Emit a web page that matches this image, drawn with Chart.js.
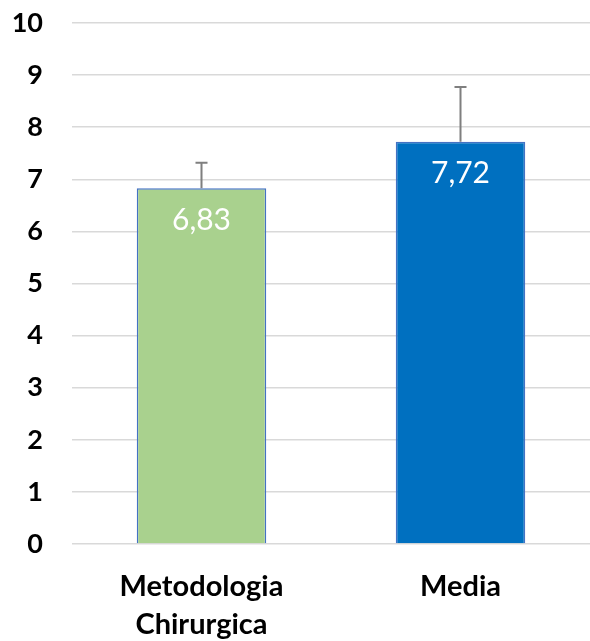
<!DOCTYPE html>
<html>
<head>
<meta charset="utf-8">
<script src="https://cdn.jsdelivr.net/npm/chart.js@4"></script>
<style>
  html, body { margin: 0; padding: 0; background: #fff; }
  #wrap { width: 590px; height: 641px; }
</style>
</head>
<body>
<div id="wrap"><canvas id="chart" width="590" height="641"></canvas></div>
<script>
var categories = [['Metodologia', 'Chirurgica'], 'Media'];
var values = [6.83, 7.72];
var errorsPlus = [0.49, 1.05];
var valueLabels = ['6,83', '7,72'];
var barColors = ['#A9D18E', '#0070C0'];
var borderColors = ['#4472C4', '#4472C4'];

var errorBars = {
    id: 'errorBars',
    afterDatasetsDraw: function (chart) {
        var ctx = chart.ctx;
        var meta = chart.getDatasetMeta(0);
        var y = chart.scales.y;
        ctx.save();
        ctx.strokeStyle = '#7f7f7f';
        ctx.lineWidth = 2;
        meta.data.forEach(function (bar, i) {
            var top = y.getPixelForValue(values[i] + errorsPlus[i]);
            ctx.beginPath();
            ctx.moveTo(bar.x, bar.y);
            ctx.lineTo(bar.x, top);
            ctx.moveTo(bar.x - 6, top);
            ctx.lineTo(bar.x + 6, top);
            ctx.stroke();
        });
        // value labels inside bars
        ctx.fillStyle = '#ffffff';
        ctx.font = '30px Lato, "Open Sans", sans-serif';
        ctx.textAlign = 'center';
        ctx.textBaseline = 'middle';
        meta.data.forEach(function (bar, i) {
            ctx.fillText(valueLabels[i], bar.x, bar.y + 32);
        });
        ctx.restore();
    }
};

new Chart(document.getElementById('chart').getContext('2d'), {
    type: 'bar',
    data: {
        labels: categories,
        datasets: [{
            data: values,
            backgroundColor: barColors,
            borderColor: borderColors,
            borderWidth: 1.5,
            categoryPercentage: 1,
            barPercentage: 0.5
        }]
    },
    options: {
        responsive: false,
        animation: false,
        layout: { padding: { top: 23, right: 0, left: 0, bottom: 0 } },
        plugins: {
            legend: { display: false },
            tooltip: { enabled: false }
        },
        scales: {
            y: {
                min: 0,
                max: 10,
                ticks: {
                    stepSize: 1,
                    color: '#000',
                    padding: 29,
                    font: { family: 'Lato, "Open Sans", sans-serif', size: 27, weight: 'bold' }
                },
                grid: { color: '#d9d9d9', lineWidth: 1.5, drawTicks: false },
                border: { display: false },
                afterFit: function (scale) {
                    scale.width = 72;
                    scale.paddingTop = 0;
                    scale.paddingBottom = 0;
                }
            },
            x: {
                ticks: {
                    color: '#000',
                    padding: 16,
                    font: { family: 'Lato, "Open Sans", sans-serif', size: 29, weight: 'bold', lineHeight: 1.31 }
                },
                grid: { display: false },
                border: { display: false },
                afterFit: function (scale) { scale.height = 97; }
            }
        }
    },
    plugins: [errorBars]
});
</script>
</body>
</html>
